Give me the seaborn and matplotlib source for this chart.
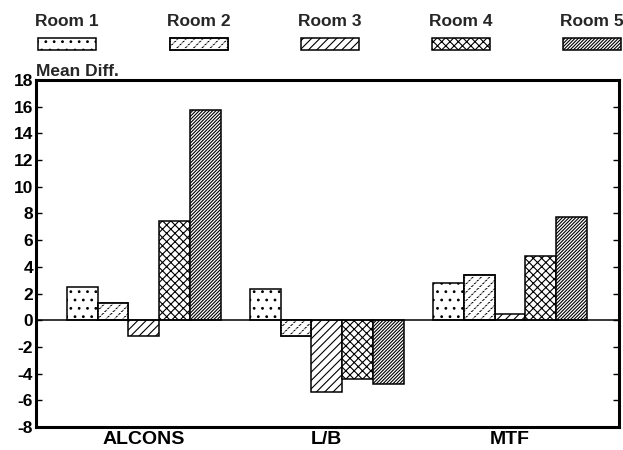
import matplotlib
matplotlib.use("Agg")
import matplotlib.pyplot as plt
from matplotlib.patches import Rectangle
import pandas as pd
import seaborn as sns

# Mean differences per measure and room
metrics = ["ALCONS", "L/B", "MTF"]
rooms = ["Room 1", "Room 2", "Room 3", "Room 4", "Room 5"]
room1 = [2.47, 2.37, 2.77]
room2 = [1.32, -1.2, 3.42]
room3 = [-1.2, -5.37, 0.5]
room4 = [7.44, -4.42, 4.79]
room5 = [15.78, -4.75, 7.7]
y_ticks = list(range(-8, 19, 2))

series = [room1, room2, room3, room4, room5]
df = pd.DataFrame(
    [(m, r, v) for r, vals in zip(rooms, series) for m, v in zip(metrics, vals)],
    columns=["metric", "room", "value"],
)

hatches = ["..", "////", "////", "xxxx", "//////////"]
BREAK = "------"

sns.set_theme(style="white")
plt.rcParams["font.family"] = ["Liberation Sans", "DejaVu Sans"]
plt.rcParams["font.weight"] = "bold"
plt.rcParams["hatch.linewidth"] = 0.8

fig = plt.figure(figsize=(6.23, 4.5), dpi=100)
ax = fig.add_axes([36 / 623, 1 - 427 / 450, (619 - 36) / 623, (427 - 80) / 450])

sns.barplot(
    data=df, x="metric", y="value", hue="room", order=metrics, hue_order=rooms,
    palette=["white"] * 5, edgecolor="black", linewidth=1.1, width=0.84,
    saturation=1, legend=False, ax=ax, zorder=2,
)

for i, container in enumerate(ax.containers):
    for bar in container:
        bar.set_hatch(hatches[i])
        bar.set_edgecolor("black")
        if i == 1:
            # break the slashes into short dashes
            x0, y0 = bar.get_xy()
            brk = Rectangle((x0, y0), bar.get_width(), bar.get_height(),
                            facecolor="none", edgecolor="white", linewidth=0,
                            hatch=BREAK, zorder=2.1)
            ax.add_patch(brk)
            edge = Rectangle((x0, y0), bar.get_width(), bar.get_height(),
                             facecolor="none", edgecolor="black", linewidth=1.1,
                             zorder=2.2)
            ax.add_patch(edge)

ax.axhline(0, color="black", linewidth=1.1, zorder=3)

ax.set_xlim(-0.588, 2.595)
ax.set_ylim(-8, 18)
ax.set_yticks(y_ticks)
ax.set_yticklabels([str(t) for t in y_ticks], fontsize=12.5, fontweight="bold")
ax.set_xticks(range(len(metrics)))
ax.set_xticklabels(metrics, fontsize=14, fontweight="bold")
ax.set_xlabel("")
ax.set_ylabel("")
ax.tick_params(axis="y", direction="in", length=4, width=1, left=True, right=True,
               pad=2, colors="black")
ax.tick_params(axis="x", length=0, pad=3, colors="black")
for s in ax.spines.values():
    s.set_visible(True)
    s.set_linewidth(2.2)
    s.set_color("black")

ax.text(0.0, 1.003, "Mean Diff.", transform=ax.transAxes, ha="left", va="bottom",
        fontsize=12.5, fontweight="bold")

# Legend: label above each swatch
centers_px = [67, 199, 330, 461, 592]
w, h = 58, 12
for i, (room, cx) in enumerate(zip(rooms, centers_px)):
    fig.text(cx / 623, 1 - 22 / 450, room, ha="center", va="center",
             fontsize=12.5, fontweight="bold")
    xy = ((cx - w / 2) / 623, 1 - 50 / 450)
    sw = Rectangle(xy, w / 623, h / 450, transform=fig.transFigure,
                   facecolor="white", edgecolor="black", linewidth=1.1,
                   hatch=hatches[i])
    fig.add_artist(sw)
    if i == 1:
        fig.add_artist(Rectangle(xy, w / 623, h / 450, transform=fig.transFigure,
                                 facecolor="none", edgecolor="white", linewidth=0,
                                 hatch=BREAK))
        fig.add_artist(Rectangle(xy, w / 623, h / 450, transform=fig.transFigure,
                                 facecolor="none", edgecolor="black", linewidth=1.1))

fig.savefig("out.png", dpi=100)
